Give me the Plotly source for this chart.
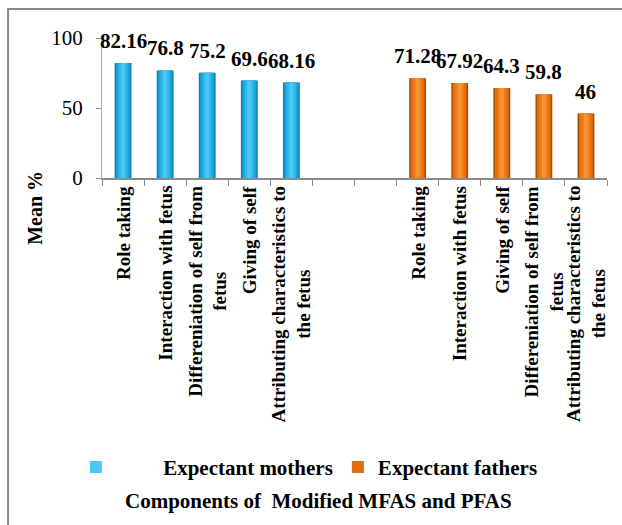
import plotly.graph_objects as go

# Component names for each group (two empty slots separate the groups)
mother_components = [
    "Role taking",
    "Interaction with fetus",
    "Differeniation of self from<br>fetus",
    "Giving of self",
    "Attributing characteristics to<br>the fetus",
]
father_components = [
    "Role taking",
    "Interaction with fetus",
    "Giving of self",
    "Differeniation of self from<br>fetus",
    "Attributing characteristics to<br>the fetus",
]
mother_values = [82.16, 76.8, 75.2, 69.6, 68.16]
father_values = [71.28, 67.92, 64.3, 59.8, 46]
gap_slots = 2

y_ticks = [0, 50, 100]

mother_x = list(range(len(mother_components)))
father_x = [len(mother_components) + gap_slots + i for i in range(len(father_components))]
n_slots = len(mother_components) + gap_slots + len(father_components)

FONT = "'Liberation Serif', 'Times New Roman', serif"

# Layered bars of shrinking width give a cylindrical shading
cyan_layers = [(0.40, "#0a7fb0"), (0.33, "#18a4da"), (0.22, "#2db8eb"), (0.10, "#4cc6f2")]
orange_layers = [(0.40, "#a84c00"), (0.33, "#e46c0a"), (0.22, "#f07d18"), (0.10, "#f89232")]

fig = go.Figure()


def add_series(name, xs, values, layers, legend_layer):
    for i, (w, col) in enumerate(layers):
        fig.add_trace(go.Bar(
            x=xs, y=values, width=w, name=name,
            marker=dict(color=col, line=dict(width=0)),
            legendgroup=name, showlegend=(i == legend_layer),
            hoverinfo="skip" if i else None,
        ))


add_series("\u00a0" * 9 + "Expectant mothers", mother_x, mother_values, cyan_layers, 3)
add_series("Expectant fathers", father_x, father_values, orange_layers, 1)

# Value labels above each bar
for xs, vals in ((mother_x, mother_values), (father_x, father_values)):
    for x, v in zip(xs, vals):
        fig.add_annotation(
            x=x, y=v, xref="x", yref="y", text=f"{v:g}", showarrow=False,
            yanchor="bottom", yshift=8,
            font=dict(family=FONT, size=21, color="black", weight="bold"),
        )

# Rotated category labels below the axis
for xs, labels in ((mother_x, mother_components), (father_x, father_components)):
    for x, lab in zip(xs, labels):
        fig.add_annotation(
            x=x, y=0, xref="x", yref="y", text=lab, showarrow=False,
            textangle=-90, yanchor="top", xanchor="center", yshift=-6, align="center",
            font=dict(family=FONT, size=19, color="black", weight="bold"),
        )

# Axis title
fig.add_annotation(
    x=-0.133, y=-0.214, xref="paper", yref="paper", text="Mean %", showarrow=False,
    textangle=-90, xanchor="center", yanchor="middle",
    font=dict(family=FONT, size=20, color="black", weight="bold"),
)

# Chart caption under the legend
fig.add_annotation(
    x=0.428, y=-2.31, xref="paper", yref="paper",
    text="Components of\u00a0 Modified MFAS and PFAS", showarrow=False,
    xanchor="center", yanchor="middle",
    font=dict(family=FONT, size=21, color="black", weight="bold"),
)

# Outer chart frame
fig.add_shape(
    type="rect", xref="paper", yref="paper",
    x0=-0.186, x1=1.06, y0=-2.6, y1=1.207,
    line=dict(color="#8a8a8a", width=2), fillcolor="rgba(0,0,0,0)", layer="below",
)

fig.update_layout(
    width=622, height=525,
    margin=dict(l=102, r=15, t=38, b=347),
    paper_bgcolor="white", plot_bgcolor="white",
    barmode="overlay",
    showlegend=True,
    legend=dict(
        orientation="h", xref="container", yref="container",
        x=0.122, xanchor="left", y=0.110, yanchor="middle",
        font=dict(family=FONT, size=21, color="black", weight="bold"),
        bgcolor="rgba(0,0,0,0)", itemclick=False,
    ),
    xaxis=dict(
        range=[-0.5, n_slots - 0.5], tickmode="linear", tick0=-0.5, dtick=1,
        ticks="outside", ticklen=6, tickcolor="#8a8a8a", showticklabels=False,
        showline=True, linecolor="#8a8a8a", linewidth=1.5, showgrid=False, zeroline=False,
    ),
    yaxis=dict(
        range=[0, 100], tickvals=y_ticks, ticks="outside", ticklen=5, tickcolor="#8a8a8a",
        showline=True, linecolor="#b0b0b0", linewidth=1, showgrid=False, zeroline=False,
        ticklabelstandoff=9,
        tickfont=dict(family=FONT, size=21, color="black"),
    ),
)

fig.write_html("out.html")
